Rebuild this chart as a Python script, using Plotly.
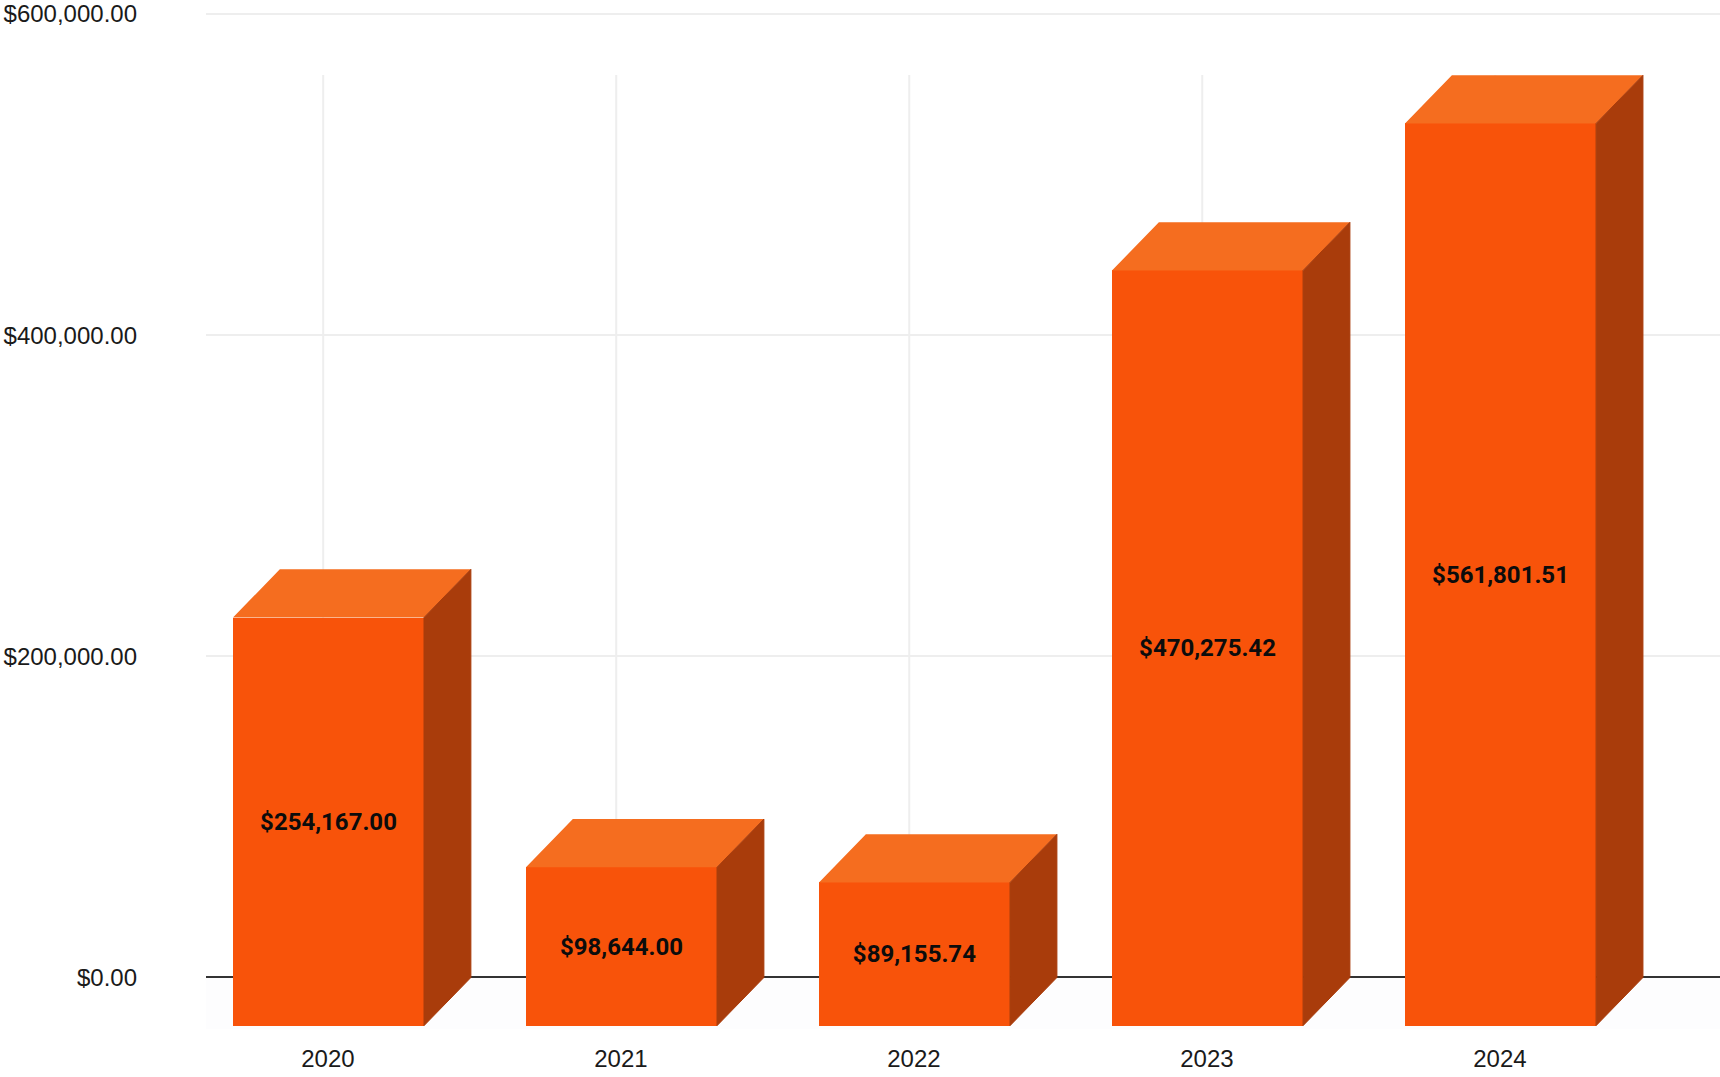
import plotly.graph_objects as go

years = ["2020", "2021", "2022", "2023", "2024"]
amounts = [254167.00, 98644.00, 89155.74, 470275.42, 561801.51]
y_ticks = [0, 200000, 400000, 600000]

BAR_W = 0.652
DX = 0.16        # box depth along x, in category units
DY = 30000       # box depth along y, in value units
FRONT, TOP, SIDE = "#F8530A", "#F56D1F", "#A93C0B"
GRID = "#EEEEEE"
GRID_TOP = 562000
BAR_SHIFT = 0.002
GRID_SHIFT = -0.016

ticks_x = list(range(len(years)))
pos = [p + BAR_SHIFT for p in ticks_x]
fig = go.Figure()

# vertical back-wall gridlines, behind the boxes
for p in ticks_x:
    fig.add_shape(type="line", x0=p + GRID_SHIFT, x1=p + GRID_SHIFT, y0=0, y1=GRID_TOP,
                  line=dict(color=GRID, width=2), layer="below")

# front faces
fig.add_trace(go.Bar(
    x=pos, y=amounts, base=-DY, width=BAR_W,
    marker=dict(color=FRONT, line=dict(width=0)),
    text=[f"${v:,.2f}" for v in amounts],
    textposition="inside", insidetextanchor="middle", textangle=0,
    constraintext="none",
    textfont=dict(family="Roboto", size=24, color="#0C0C0C", weight="bold"),
    showlegend=False,
))

# top and side faces
tx, ty, sx, sy = [], [], [], []
for p, v in zip(pos, amounts):
    l, r = p - BAR_W / 2, p + BAR_W / 2
    tx += [l, r, r + DX, l + DX, l, None]
    ty += [v - DY, v - DY, v, v, v - DY, None]
    sx += [r, r + DX, r + DX, r, r, None]
    sy += [-DY, 0, v, v - DY, -DY, None]
fig.add_trace(go.Scatter(x=tx, y=ty, mode="lines", fill="toself", fillcolor=TOP,
                         line=dict(width=0, color=TOP), hoverinfo="skip", showlegend=False))
fig.add_trace(go.Scatter(x=sx, y=sy, mode="lines", fill="toself", fillcolor=SIDE,
                         line=dict(width=1, color=SIDE), hoverinfo="skip", showlegend=False))

# faint floor
fig.add_hrect(y0=-DY - 2000, y1=0, fillcolor="#FDFDFE", line_width=0, layer="below")

tick_font = dict(family="Liberation Sans", size=24, color="#1A1A1A")
fig.update_layout(
    width=1720, height=1077, paper_bgcolor="white", plot_bgcolor="white",
    margin=dict(l=206, r=0, t=0, b=47), showlegend=False, bargap=0,
    xaxis=dict(range=[-0.416, 4.751], tickmode="array", tickvals=ticks_x, ticktext=years,
               showgrid=False, zeroline=False, showline=False, ticks="",
               tickfont=tick_font, ticklabelstandoff=12),
    yaxis=dict(range=[-32700, 607458], tickmode="array", tickvals=y_ticks,
               tickformat="$,.2f", showgrid=True, gridcolor=GRID, gridwidth=2,
               zeroline=True, zerolinecolor="#333333", zerolinewidth=2,
               showline=False, ticks="", tickfont=tick_font, ticklabelstandoff=68,
               ticklabeloverflow="allow"),
)
fig.write_html("out.html", config={"displayModeBar": False},
               post_script="document.body.style.margin='0';")
